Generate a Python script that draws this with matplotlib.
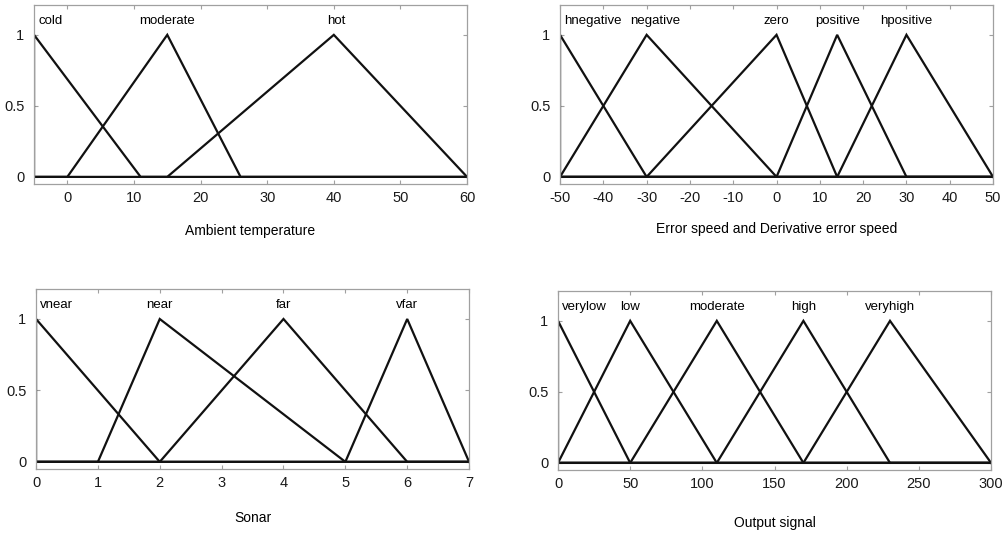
import numpy as np
import matplotlib as mpl
mpl.use('Agg')
import matplotlib.pyplot as plt

mpl.rcParams.update({
    "font.family": ["Liberation Sans", "DejaVu Sans"],
    "font.size": 9.5,
    "axes.unicode_minus": False,
    "axes.edgecolor": "#a0a0a0",
    "axes.linewidth": 0.9,
    "xtick.color": "#a0a0a0",
    "ytick.color": "#a0a0a0",
    "xtick.labelcolor": "#1a1a1a",
    "ytick.labelcolor": "#1a1a1a",
    "xtick.labelsize": 10.5,
    "ytick.labelsize": 10.5,
})

# membership functions: (a, b, c) triangles, a == b gives a left shoulder
temp_names = ["cold", "moderate", "hot"]
temp_abc = [(-5, -5, 11), (0, 15, 26), (15, 40, 60)]
temp_range = (-5, 60)
temp_ticks = [0, 10, 20, 30, 40, 50, 60]

err_names = ["hnegative", "negative", "zero", "positive", "hpositive"]
err_abc = [(-50, -50, -30), (-50, -30, 0), (-30, 0, 14), (0, 14, 30), (14, 30, 50)]
err_range = (-50, 50)
err_ticks = [-50, -40, -30, -20, -10, 0, 10, 20, 30, 40, 50]

sonar_names = ["vnear", "near", "far", "vfar"]
sonar_abc = [(0, 0, 2), (1, 2, 5), (2, 4, 6), (5, 6, 7)]
sonar_range = (0, 7)
sonar_ticks = [0, 1, 2, 3, 4, 5, 6, 7]

out_names = ["verylow", "low", "moderate", "high", "veryhigh"]
out_abc = [(0, 0, 50), (0, 50, 110), (50, 110, 170), (110, 170, 230), (170, 230, 300)]
out_range = (0, 300)
out_ticks = [0, 50, 100, 150, 200, 250, 300]

# label nudges (points) so neighbouring names don't run into each other
nudge = {"negative": 6, "hot": 2}


def trimf_points(abc, lo, hi):
    a, b, c = abc
    xs = [lo, a, b, c, hi]
    ys = [0, 0, 1, 0, 0]
    return xs, ys


def mf_panel(rect, names, params, xr, ticks, xlabel, labelpad):
    ax = fig.add_axes(rect)
    for name, abc in zip(names, params):
        xs, ys = trimf_points(abc, xr[0], xr[1])
        ax.plot(xs, ys, color="#111111", lw=1.6, solid_joinstyle="miter")
        if abc[1] == xr[0]:
            ax.annotate(name, (abc[1], 1.1), xytext=(3, 0), textcoords="offset points",
                        ha="left", va="center", fontsize=9.5)
        else:
            ax.annotate(name, (abc[1], 1.1), xytext=(nudge.get(name, 0), 0),
                        textcoords="offset points", ha="center", va="center",
                        fontsize=9.5)
    ax.set_xlim(*xr)
    ax.set_ylim(-0.05, 1.21)
    ax.set_xticks(ticks)
    ax.set_yticks([0, 0.5, 1])
    ax.set_yticklabels(["0", "0.5", "1"])
    ax.tick_params(direction="in", top=True, right=True, length=3, width=0.8)
    ax.tick_params(axis="x", pad=5)
    ax.tick_params(axis="y", pad=7)
    ax.set_xlabel(xlabel, fontsize=10, labelpad=labelpad)
    return ax


fig = plt.figure(figsize=(10.04, 5.33), dpi=100)

mf_panel([0.0339, 0.6548, 0.4313, 0.3358], temp_names, temp_abc, temp_range,
         temp_ticks, "Ambient temperature", 14)
mf_panel([0.5578, 0.6548, 0.4313, 0.3358], err_names, err_abc, err_range,
         err_ticks, "Error speed and Derivative error speed", 12.5)
mf_panel([0.0359, 0.1201, 0.4313, 0.3377], sonar_names, sonar_abc, sonar_range,
         sonar_ticks, "Sonar", 15.5)
mf_panel([0.5558, 0.1182, 0.4313, 0.3358], out_names, out_abc, out_range,
         out_ticks, "Output signal", 18)

fig.savefig("out.png", dpi=100)
